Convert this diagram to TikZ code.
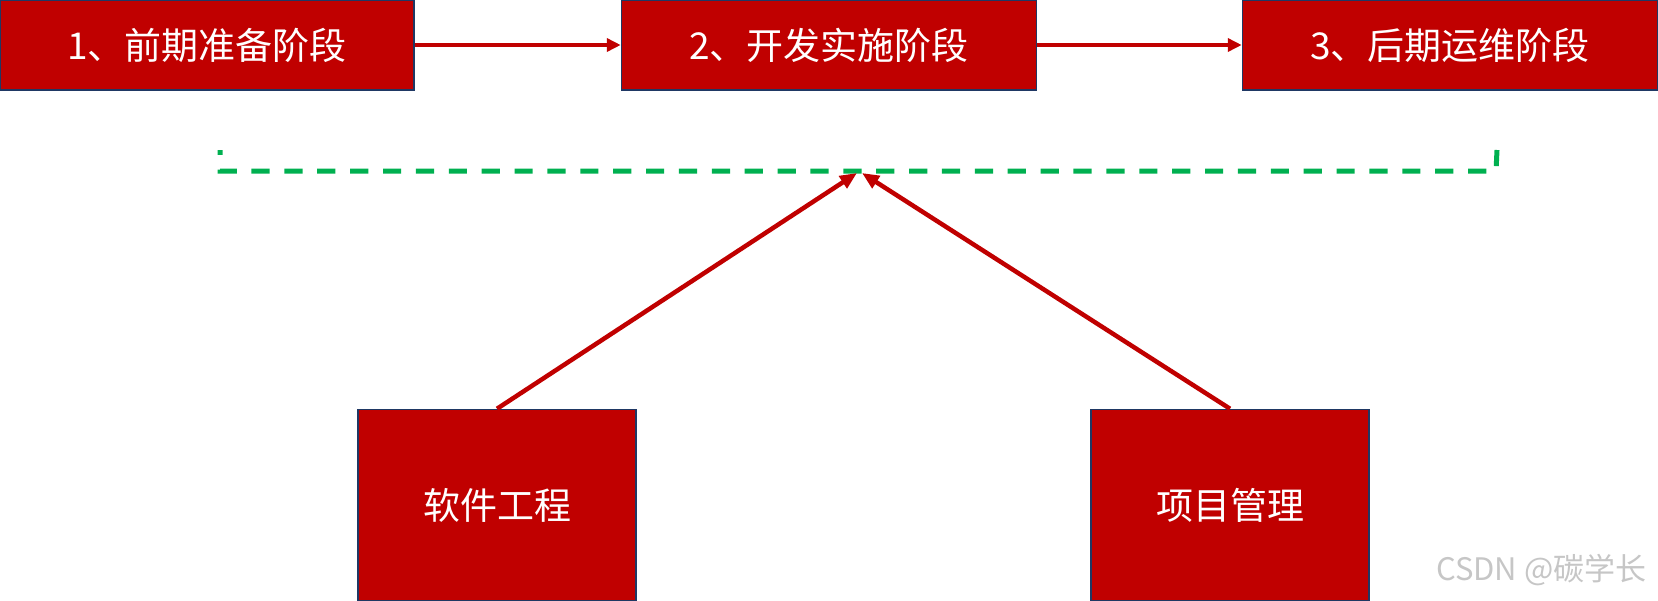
\documentclass[tikz,border=0pt]{standalone}
\usepackage{fontspec}
\newfontfamily\cjk{Noto Sans CJK SC}
\usetikzlibrary{arrows.meta}
\definecolor{boxred}{HTML}{C00000}
\definecolor{boxline}{HTML}{1F3864}
\definecolor{dashgreen}{HTML}{00B050}
\begin{document}
\begin{tikzpicture}[x=1pt,y=-1pt,
  stage/.style={draw=boxline, line width=1.5pt, fill=boxred, text=white,
    font=\cjk\fontsize{37}{40}\selectfont, inner sep=0pt, minimum height=90pt},
  field/.style={draw=boxline, line width=1.5pt, fill=boxred, text=white,
    font=\cjk\fontsize{37}{40}\selectfont, inner sep=0pt,
    minimum width=278pt, minimum height=191pt},
  flow/.style={draw=boxred, line width=4pt, -{Triangle[length=14pt,width=13pt]}},
  feed/.style={draw=boxred, line width=4.5pt, -{Triangle[length=17pt,width=14pt]}},
  bracket/.style={draw=dashgreen, line width=5pt, dash pattern=on 18.2pt off 14.68pt, dash phase=13.28pt}
]
\useasboundingbox (0,0) rectangle (1658,600);
\node[stage, minimum width=414pt] (s1) at (207,45) {1、前期准备阶段};
\node[stage, minimum width=415pt] (s2) at (829,45) {2、开发实施阶段};
\node[stage, minimum width=415pt] (s3) at (1450,45) {3、后期运维阶段};
\draw[flow] (s1.east) -- (s2.west);
\draw[flow] (s2.east) -- (s3.west);

\coordinate (bl) at (220,150);
\coordinate (blc) at (220,171);
\coordinate (brc) at (1496,171);
\coordinate (br) at (1497,150);
\draw[bracket] (bl) -- (blc) -- (brc) -- (br);

\node[field] (se) at (497,505) {软件工程};
\node[field] (pm) at (1230,505) {项目管理};
\coordinate (apexL) at (857,173);
\coordinate (apexR) at (862,173);
\draw[feed] (se.north) -- (apexL);
\draw[feed] (pm.north) -- (apexR);

\node[anchor=west, inner sep=0pt, text=gray!45, font=\cjk\fontsize{31}{34}\selectfont] (wm) at (1436,570) {CSDN @碳学长};
\end{tikzpicture}
\end{document}
